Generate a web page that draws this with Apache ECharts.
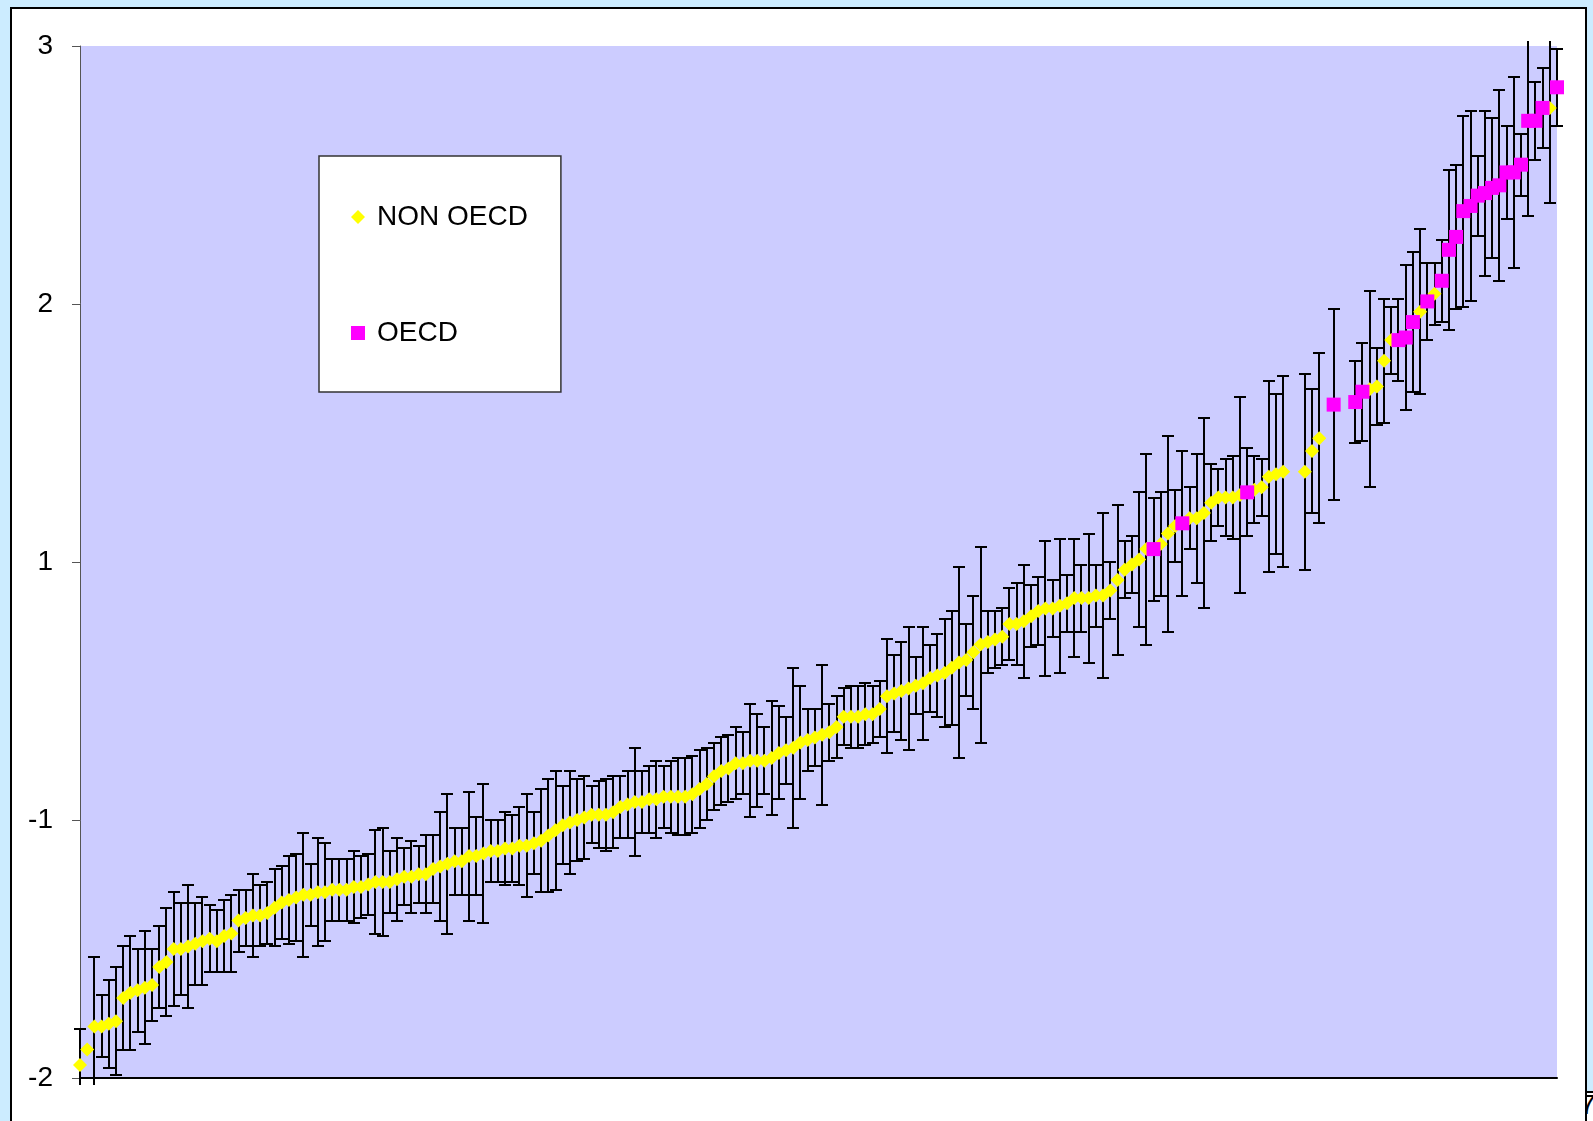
<!DOCTYPE html>
<html>
<head>
<meta charset="utf-8">
<title>Governance scores, OECD and non-OECD countries</title>
<script src="https://cdn.jsdelivr.net/npm/echarts@6/dist/echarts.min.js"></script>
<style>
  html, body { margin: 0; padding: 0; width: 1593px; height: 1121px; overflow: hidden; background: #CCECFF; }
  #frame { position: absolute; left: 10px; top: 7px; width: 1577px; height: 1130px; box-sizing: border-box;
           background: #FFFFFF; border: 2px solid #000000; }
  #cell { position: absolute; left: 1585px; top: 1091px; width: 20px; height: 40px; box-sizing: border-box;
          background: #FFFFFF; border-top: 2px solid #000000; border-left: 2px solid #000000; overflow: hidden; }
  #cell span { position: absolute; left: -7px; top: -4px; font: 28px "Liberation Sans", Arial, sans-serif; color: #000; }
  #chart { position: absolute; left: 0; top: 0; width: 1593px; height: 1121px; }
</style>
</head>
<body>
<div id="frame"></div>
<div id="cell"><span>7</span></div>
<div id="chart"></div>
<script>
// Country scores in rank order (null = no estimate shown at that rank)
const scores = [
  -1.95, -1.89, -1.80, -1.80, -1.79, -1.78, -1.69, -1.67, -1.66, -1.65,
  -1.64, -1.57, -1.55, -1.50, -1.50, -1.49, -1.48, -1.47, -1.46, -1.47,
  -1.45, -1.44, -1.39, -1.38, -1.37, -1.37, -1.36, -1.34, -1.32, -1.31,
  -1.30, -1.29, -1.29, -1.28, -1.28, -1.27, -1.27, -1.27, -1.26, -1.26,
  -1.25, -1.24, -1.24, -1.24, -1.23, -1.22, -1.22, -1.21, -1.21, -1.19,
  -1.18, -1.17, -1.16, -1.16, -1.14, -1.14, -1.13, -1.12, -1.12, -1.11,
  -1.11, -1.10, -1.10, -1.09, -1.08, -1.06, -1.04, -1.02, -1.01, -1.00,
  -0.99, -0.98, -0.98, -0.98, -0.97, -0.95, -0.94, -0.93, -0.93, -0.92,
  -0.92, -0.91, -0.91, -0.91, -0.91, -0.90, -0.88, -0.86, -0.83, -0.81,
  -0.80, -0.78, -0.78, -0.77, -0.77, -0.77, -0.76, -0.74, -0.73, -0.72,
  -0.70, -0.69, -0.68, -0.67, -0.66, -0.64, -0.60, -0.60, -0.60, -0.59,
  -0.59, -0.57, -0.52, -0.51, -0.50, -0.49, -0.48, -0.47, -0.45, -0.44,
  -0.43, -0.41, -0.39, -0.38, -0.35, -0.32, -0.31, -0.30, -0.29, -0.24,
  -0.24, -0.23, -0.21, -0.19, -0.18, -0.18, -0.17, -0.16, -0.14, -0.14,
  -0.14, -0.13, -0.13, -0.11, -0.07, -0.03, -0.01, 0.01, 0.05, 0.05,
  0.07, 0.11, 0.14, 0.15, 0.17, 0.17, 0.19, 0.23, 0.25, 0.25,
  0.25, 0.26, 0.27, 0.28, 0.29, 0.33, 0.34, 0.35, null, null,
  0.35, 0.43, 0.48, null, 0.61, null, null, 0.62, 0.66, 0.67,
  0.68, 0.78, 0.86, 0.86, 0.87, 0.93, 0.97, 1.01, 1.04, 1.09,
  1.21, 1.26, 1.36, 1.38, 1.42, 1.43, 1.45, 1.46, 1.51, 1.51,
  1.54, 1.71, 1.71, 1.76, 1.76, 1.84
];

// Half-width of each country's confidence interval
const margins = [
  0.14, 0, 0.27, 0.12, 0.17, 0.21, 0.20, 0.22, 0.16, 0.22,
  0.14, 0.16, 0.21, 0.22, 0.18, 0.24, 0.16, 0.17, 0.13, 0.12,
  0.14, 0.15, 0.12, 0.11, 0.16, 0.12, 0.12, 0.15, 0.14, 0.17,
  0.17, 0.24, 0.12, 0.21, 0.19, 0.12, 0.12, 0.12, 0.14, 0.12,
  0.12, 0.20, 0.21, 0.12, 0.16, 0.11, 0.14, 0.11, 0.15, 0.13,
  0.21, 0.27, 0.13, 0.13, 0.25, 0.15, 0.27, 0.12, 0.12, 0.14,
  0.13, 0.15, 0.20, 0.12, 0.20, 0.22, 0.23, 0.15, 0.20, 0.16,
  0.16, 0.11, 0.13, 0.14, 0.14, 0.12, 0.13, 0.21, 0.12, 0.13,
  0.15, 0.12, 0.14, 0.15, 0.15, 0.15, 0.15, 0.14, 0.13, 0.13,
  0.13, 0.14, 0.12, 0.22, 0.18, 0.13, 0.22, 0.18, 0.13, 0.31,
  0.22, 0.12, 0.11, 0.27, 0.11, 0.12, 0.11, 0.12, 0.12, 0.12,
  0.11, 0.11, 0.22, 0.15, 0.19, 0.24, 0.11, 0.22, 0.13, 0.16,
  0.21, 0.22, 0.37, 0.14, 0.22, 0.38, 0.12, 0.11, 0.11, 0.14,
  0.16, 0.22, 0.12, 0.13, 0.26, 0.11, 0.26, 0.11, 0.23, 0.13,
  0.25, 0.12, 0.32, 0.11, 0.29, 0.11, 0.11, 0.26, 0.37, 0.20,
  0.20, 0.38, 0.14, 0.28, 0.12, 0.25, 0.37, 0.15, 0.11, 0.15,
  0.16, 0.38, 0.17, 0.13, 0.11, 0.37, 0.31, 0.37, null, null,
  0.38, 0.24, 0.33, null, 0.37, null, null, 0.16, 0.19, 0.38,
  0.15, 0.24, 0.13, 0.16, 0.28, 0.27, 0.32, 0.15, 0.12, 0.16,
  0.31, 0.28, 0.37, 0.37, 0.155, 0.32, 0.27, 0.37, 0.18, 0.37,
  0.12, 0.37, 0.15, 0.155, 0.37, 0.15
];

// Ranks that belong to OECD members
const oecdRanks = [149, 153, 162, 174, 177, 178, 183, 184, 185, 187, 189,
  190, 191, 192, 193, 194, 195, 196, 197, 198, 199, 200, 201, 202, 203, 205];

const seriesNames = ['NON OECD', 'OECD'];
const yTickLabels = ['-2', '-1', '1', '2', '3'];
const yMin = -2, yMax = 2;

const oecdSet = new Set(oecdRanks);
const nonOecdPoints = [], oecdPoints = [], errorBars = [];
scores.forEach((s, i) => {
  if (s === null) return;
  (oecdSet.has(i) ? oecdPoints : nonOecdPoints).push([i, s]);
  if (margins[i]) errorBars.push([i, s, margins[i]]);
});

const FONT = '"Liberation Sans", Arial, sans-serif';

// Vertical interval line with end caps; lines may run a few pixels past the plot edge
function renderErrorBar(params, api) {
  const i = api.value(0), v = api.value(1), h = api.value(2);
  const cs = params.coordSys;
  const topLimit = cs.y - 5, bottomLimit = cs.y + cs.height + 7;
  const hi = api.coord([i, v + h]);
  const lo = api.coord([i, v - h]);
  const x = Math.round(hi[0]);
  const yHi = Math.round(hi[1]), yLo = Math.round(lo[1]);
  const style = { stroke: '#000000', lineWidth: 2 };
  const children = [{
    type: 'line',
    shape: { x1: x, y1: Math.max(yHi, topLimit), x2: x, y2: Math.min(yLo, bottomLimit) },
    style: style
  }];
  if (yHi >= topLimit) children.push({ type: 'line', shape: { x1: x - 6, y1: yHi, x2: x + 6, y2: yHi }, style: style });
  if (yLo <= bottomLimit) children.push({ type: 'line', shape: { x1: x - 6, y1: yLo, x2: x + 6, y2: yLo }, style: style });
  return { type: 'group', children: children };
}

const chart = echarts.init(document.getElementById('chart'), null, { renderer: 'canvas' });
chart.setOption({
  backgroundColor: 'transparent',
  animation: false,
  textStyle: { fontFamily: FONT },
  grid: {
    left: 80, right: 36, top: 46, bottom: 43,
    containLabel: false, outerBoundsMode: 'none',
    show: true, backgroundColor: '#CCCCFF', borderWidth: 0
  },
  legend: {
    data: seriesNames,
    orient: 'vertical',
    left: 319, top: 156,
    padding: [47, 33, 45, 32],
    itemGap: 88,
    itemWidth: 14, itemHeight: 14,
    backgroundColor: '#FFFFFF',
    borderColor: '#333333', borderWidth: 1.5,
    selectedMode: false,
    textStyle: { fontSize: 28, color: '#000000', fontFamily: FONT, padding: [0, 0, 0, 7] }
  },
  xAxis: {
    type: 'value', min: 0, max: scores.length - 1,
    axisLine: { show: true, onZero: false, lineStyle: { color: '#000000', width: 2 } },
    axisTick: { show: false }, axisLabel: { show: false }, splitLine: { show: false }
  },
  yAxis: {
    type: 'value', min: yMin, max: yMax, interval: 1,
    axisLine: { show: true, lineStyle: { color: '#555555', width: 1 } },
    axisTick: { show: true, inside: false, length: 8, lineStyle: { color: '#555555', width: 1 } },
    axisLabel: {
      margin: 27, fontSize: 28, color: '#000000', fontFamily: FONT,
      formatter: v => yTickLabels[Math.round(v - yMin)]
    },
    splitLine: { show: false }
  },
  series: [
    {
      name: 'intervals', type: 'custom', z: 1, clip: false,
      renderItem: renderErrorBar,
      encode: { x: 0, y: 1 },
      data: errorBars, silent: true
    },
    {
      name: seriesNames[0], type: 'scatter', z: 2, clip: false,
      symbol: 'diamond', symbolSize: 14,
      itemStyle: { color: '#FFFF00', borderWidth: 0, opacity: 1 },
      data: nonOecdPoints
    },
    {
      name: seriesNames[1], type: 'scatter', z: 3, clip: false,
      symbol: 'rect', symbolSize: 14,
      itemStyle: { color: '#FF00FF', borderWidth: 0, opacity: 1 },
      data: oecdPoints
    }
  ]
});
</script>
</body>
</html>
